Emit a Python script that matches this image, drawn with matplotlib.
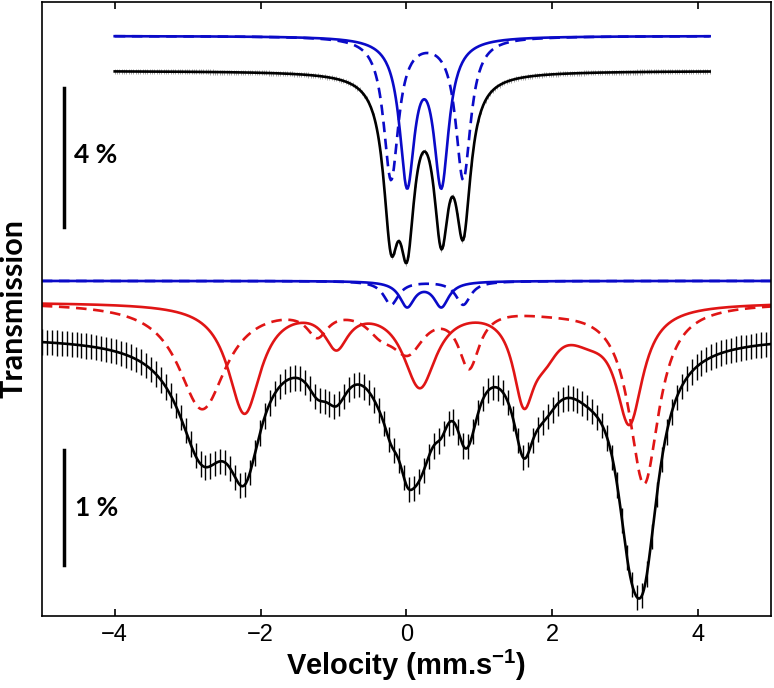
import numpy as np
import matplotlib
matplotlib.use("Agg")
import matplotlib.pyplot as plt

plt.rcParams['mathtext.default'] = 'regular'

# ---- fitted sub-spectra ----------------------------------------------
# top spectrum (in % of its own 4 % scale)
top_solid_pos = [0.01, 0.48]
top_solid_depth = [4.13, 4.13]
top_solid_width = [0.25, 0.25]
top_dash_pos = [-0.21, 0.78]
top_dash_depth = [4.09, 4.09]
top_dash_width = [0.25, 0.25]

# bottom spectrum (in % of its 1 % scale)
bot_solid_pos = [0.01, 0.48]
bot_solid_depth = [0.217, 0.217]
bot_solid_width = [0.25, 0.25]
bot_dash_pos = [-0.21, 0.78]
bot_dash_depth = [0.205, 0.205]
bot_dash_width = [0.25, 0.25]

red_solid_pos = [-2.22, -0.96, 0.185, 1.61, 1.9, 2.5, 3.06]
red_solid_depth = [0.95, 0.33, 0.70, 0.72, 0.28, 0.20, 0.97]
red_solid_width = [0.55, 0.4, 0.55, 0.35, 0.5, 0.8, 0.45]

red_dash_pos = [-2.8, -1.22, -0.35, 0.02, 0.86, 2.0, 3.26]
red_dash_depth = [0.92, 0.22, 0.16, 0.36, 0.50, 0.05, 1.56]
red_dash_width = [0.8, 0.35, 0.5, 0.55, 0.35, 1.5, 0.5]

top_range = (-4.0, 4.16)
top_npts = 256
bot_range = (-5.0, 5.0)
bot_npts = 148
top_err = 0.022
bot_err = 0.11


def lorentz(v, pos, depth, width):
    out = np.zeros_like(v)
    for p, d, w in zip(pos, depth, width):
        out += d / (1 + (2 * (v - p) / w) ** 2)
    return out


# ---- layout of the stacked curves (plot units = bottom %) ------------
top_k = 0.302          # 1 % of top spectrum in plot units
top_blue_base = 2.613
top_black_base = 2.309
bot_blue_base = 0.483
red_base = 0.300
bot_black_base = 0.0

blue = '#0a0ac8'
red = '#e01515'
sans = ['Liberation Sans', 'DejaVu Sans']
calib = ['Lato', 'DejaVu Sans']

fig = plt.figure(figsize=(7.74, 6.88), dpi=100)
ax = fig.add_axes([0.054, 0.1047, 0.942, 0.8917])

# top spectrum
vt = np.linspace(*top_range, 600)
ts = lorentz(vt, top_solid_pos, top_solid_depth, top_solid_width)
td = lorentz(vt, top_dash_pos, top_dash_depth, top_dash_width)
ax.plot(vt, top_blue_base - top_k * ts, color=blue, lw=1.9)
ax.plot(vt, top_blue_base - top_k * td, color=blue, lw=1.9, dashes=(4, 2.5))

vtd = np.linspace(*top_range, top_npts)
ytd = top_black_base - top_k * (lorentz(vtd, top_solid_pos, top_solid_depth, top_solid_width)
                                + lorentz(vtd, top_dash_pos, top_dash_depth, top_dash_width))
ax.errorbar(vtd, ytd, yerr=top_err, fmt='none', ecolor='#9a9a9a', elinewidth=0.6)
ax.plot(vt, top_black_base - top_k * (ts + td), color='black', lw=1.9)

# bottom spectrum
vb = np.linspace(*bot_range, 1000)
bs = lorentz(vb, bot_solid_pos, bot_solid_depth, bot_solid_width)
bd = lorentz(vb, bot_dash_pos, bot_dash_depth, bot_dash_width)
rs = lorentz(vb, red_solid_pos, red_solid_depth, red_solid_width)
rd = lorentz(vb, red_dash_pos, red_dash_depth, red_dash_width)
ax.plot(vb, bot_blue_base - bs, color=blue, lw=1.9)
ax.plot(vb, bot_blue_base - bd, color=blue, lw=1.9, dashes=(4, 2.5))
ax.plot(vb, red_base - rs, color=red, lw=1.9)
ax.plot(vb, red_base - rd, color=red, lw=1.9, dashes=(4, 2.5))

vbd = np.linspace(*bot_range, bot_npts)
ybd = bot_black_base - (lorentz(vbd, bot_solid_pos, bot_solid_depth, bot_solid_width)
                        + lorentz(vbd, bot_dash_pos, bot_dash_depth, bot_dash_width)
                        + lorentz(vbd, red_solid_pos, red_solid_depth, red_solid_width)
                        + lorentz(vbd, red_dash_pos, red_dash_depth, red_dash_width))
ax.errorbar(vbd, ybd, yerr=bot_err, fmt='none', ecolor='black', elinewidth=1.0)
ax.plot(vb, bot_black_base - (bs + bd + rs + rd), color='black', lw=1.9)

# scale bars
ax.plot([-4.7, -4.7], [0.952, 0.952 + 4 * top_k], color='black', lw=2.5)
ax.text(-4.56, 1.578, '4 %', fontsize=19, fontweight='bold', family=calib,
        ha='left', va='center')
ax.plot([-4.7, -4.7], [-1.987, -0.987], color='black', lw=2.5)
ax.text(-4.54, -1.491, '1 %', fontsize=19, fontweight='bold', family=calib,
        ha='left', va='center')

ax.set_xlim(-5, 5)
ax.set_ylim(-2.430, 2.904)
ax.set_xticks([-4, -2, 0, 2, 4])
ax.set_yticks([])
ax.tick_params(axis='x', direction='in', top=True, length=5, width=1.2, pad=6,
               labelsize=17)
for lab in ax.get_xticklabels():
    lab.set_family(sans)
for s in ax.spines.values():
    s.set_linewidth(1.2)

ax.set_xlabel('Velocity (mm.s$^{-1}$)', fontsize=21, fontweight='bold', family=sans)
ax.xaxis.set_label_coords(0.5, -0.080)
ax.xaxis.label.set_va('center')
ax.set_ylabel('Transmission', fontsize=22, fontweight='bold', family=calib)
ax.yaxis.set_label_coords(-0.0387, 0.5004)
ax.yaxis.label.set_va('center')

fig.savefig('out.png', dpi=100)
